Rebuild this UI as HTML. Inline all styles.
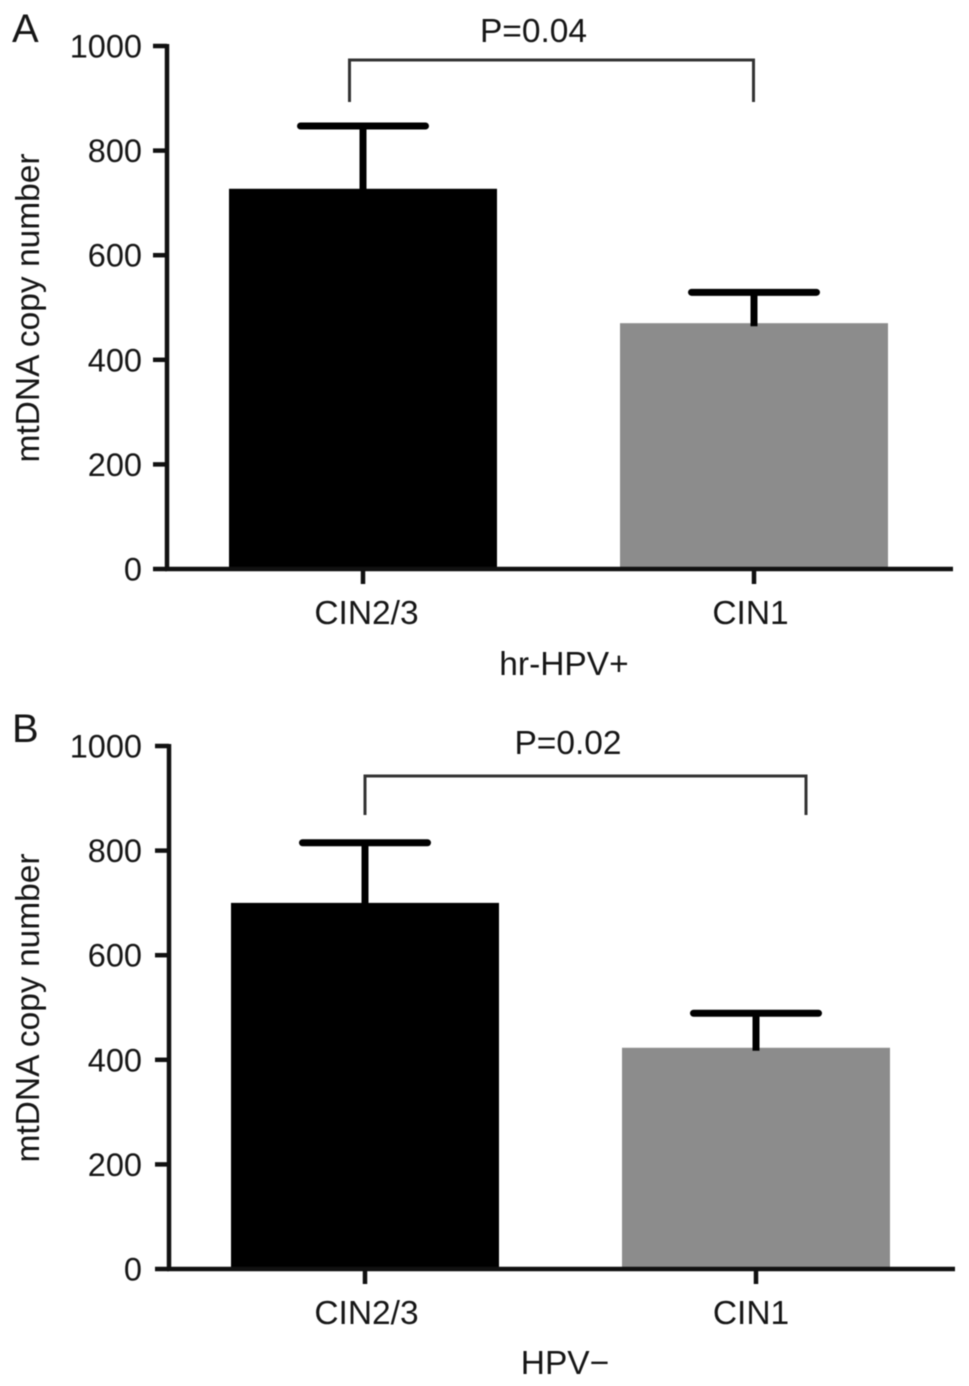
<!DOCTYPE html>
<html lang="en">
<head>
<meta charset="utf-8">
<title>mtDNA copy number</title>
<style>
html,body{margin:0;padding:0;background:#fff;}
body{width:969px;height:1386px;overflow:hidden;}
svg{display:block;filter:blur(0.45px);}
text{font-family:"Liberation Sans",sans-serif;font-size:33.5px;fill:#161616;}
</style>
</head>
<body>
<svg id="figure" xmlns="http://www.w3.org/2000/svg" width="969" height="1386" viewBox="0 0 969 1386"></svg>
<script>
const categories = ['CIN2/3', 'CIN1'];
const yTickLabels = [0, 200, 400, 600, 800, 1000];
const panelAMeans = [727, 470];
const panelAUpperErrors = [847, 529];
const panelBMeans = [700, 423];
const panelBUpperErrors = [815, 489];

const svg = document.getElementById('figure');
const NS = 'http://www.w3.org/2000/svg';

function make(tag, attrs, parent) {
  const el = document.createElementNS(NS, tag);
  for (const k in attrs) el.setAttribute(k, attrs[k]);
  (parent || svg).appendChild(el);
  return el;
}

function drawPanel(cfg) {
  const g = make('g', {});
  
  

  const yScale = v => cfg.baseY - (cfg.baseY - cfg.topY) * v / 1000;
  const xScale = i => cfg.firstX + i * cfg.stepX;
  const barW = 268, capW = 125;

  const letter = make('text', {x: cfg.letterX, y: cfg.letterY, style: 'font-size:40px'}, g);
  letter.textContent = cfg.id.toUpperCase();
  
  

  categories.forEach((c, i) => {
    const cx = xScale(i);
    const top = yScale(cfg.means[i]);
    const bar = make('rect', {x: cx - barW / 2, y: top, width: barW, height: cfg.baseY - top, fill: i === 0 ? '#000' : '#8c8c8c'}, g);
    
    

    const errTop = yScale(cfg.errors[i]);
    const stem = make('line', {x1: cx, x2: cx, y1: errTop, y2: top + 3, stroke: '#000', 'stroke-width': 7}, g);
    
    

    const cap = make('line', {x1: cx - capW / 2, x2: cx + capW / 2, y1: errTop, y2: errTop, stroke: '#000', 'stroke-width': 7, 'stroke-linecap': 'round'}, g);
    
    

    const tick = make('line', {x1: cx, x2: cx, y1: cfg.baseY, y2: cfg.baseY + 15, stroke: '#111', 'stroke-width': 4.5}, g);
    
    

    const label = make('text', {x: cfg.labelX[i], y: cfg.baseY + 55, 'text-anchor': 'middle'}, g);
    label.textContent = c;
    
    
  });

  const yAxis = make('line', {x1: cfg.axisX, x2: cfg.axisX, y1: cfg.topY - 2, y2: cfg.baseY + 2, stroke: '#111', 'stroke-width': 4.5}, g);
  
  

  const xAxis = make('line', {x1: cfg.axisX - 2, x2: cfg.axisEnd, y1: cfg.baseY, y2: cfg.baseY, stroke: '#111', 'stroke-width': 4.5}, g);
  
  

  yTickLabels.forEach(v => {
    const y = yScale(v);
    const tick = make('line', {x1: cfg.axisX - 14, x2: cfg.axisX, y1: y, y2: y, stroke: '#111', 'stroke-width': 4.5}, g);
    
    

    const label = make('text', {x: 142, y: y + 11.5, 'text-anchor': 'end', style: 'font-size:32.5px'}, g);
    label.textContent = v;
    
    
  });

  const yTitle = make('text', {x: 0, y: 0, 'text-anchor': 'middle', transform: 'translate(39 ' + cfg.titleCenterY + ') rotate(-90)'}, g);
  yTitle.textContent = 'mtDNA copy number';
  
  

  const xTitle = make('text', {x: cfg.xTitleX, y: cfg.xTitleY, 'text-anchor': 'middle'}, g);
  xTitle.textContent = cfg.xTitle;
  
  

  const b = cfg.bracket;
  const bracket = make('path', {d: 'M' + b.x1 + ' ' + b.bottom + 'V' + b.top + 'H' + b.x2 + 'V' + b.bottom, fill: 'none', stroke: '#333', 'stroke-width': 3}, g);
  
  

  const p = make('text', {x: b.textX, y: b.textY, 'text-anchor': 'middle'}, g);
  p.textContent = b.text;
  
  
}

drawPanel({
  id: 'a', means: panelAMeans, errors: panelAUpperErrors,
  axisX: 167, axisEnd: 953, topY: 46, baseY: 569,
  firstX: 363, stepX: 391, labelX: [366.5, 750.5],
  letterX: 12, letterY: 42, titleCenterY: 308,
  xTitle: 'hr-HPV+', xTitleX: 564, xTitleY: 675,
  bracket: {x1: 349.5, x2: 753.5, top: 60, bottom: 102, text: 'P=0.04', textX: 533.5, textY: 42}
});

drawPanel({
  id: 'b', means: panelBMeans, errors: panelBUpperErrors,
  axisX: 169, axisEnd: 955, topY: 746, baseY: 1269,
  firstX: 365, stepX: 391, labelX: [366.5, 751],
  letterX: 12, letterY: 742, titleCenterY: 1008,
  xTitle: 'HPV\u2212', xTitleX: 565, xTitleY: 1374,
  bracket: {x1: 365, x2: 806, top: 776, bottom: 815, text: 'P=0.02', textX: 568, textY: 754}
});
</script>
</body>
</html>
